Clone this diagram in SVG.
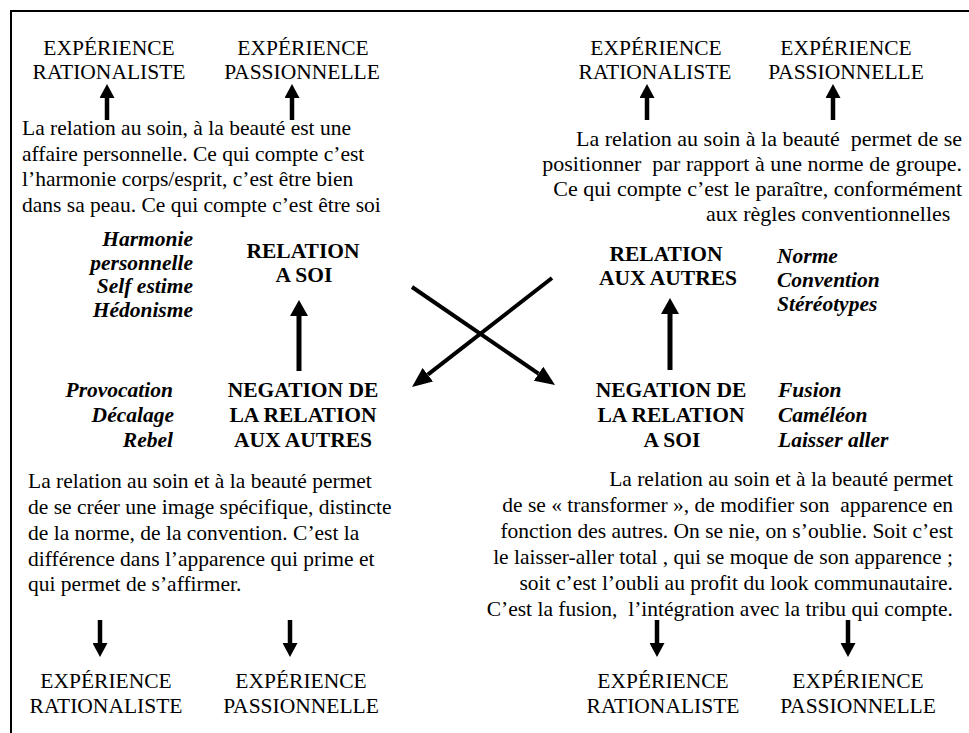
<svg xmlns="http://www.w3.org/2000/svg" width="969" height="733" viewBox="0 0 969 733">
<defs>
<style>
text{font-family:"Liberation Serif","Times New Roman",serif;font-size:21.5px;fill:#000;white-space:pre}
.m{text-anchor:middle}
.e{text-anchor:end}
.b{font-weight:bold}
.i{font-weight:bold;font-style:italic}
.tr{font-size:22px}
.a{stroke:#000;stroke-width:4.5;fill:none}
.am{stroke:#000;stroke-width:5;fill:none}
.x{stroke:#000;stroke-width:4;fill:none}
</style>
<marker id="h" markerUnits="userSpaceOnUse" markerWidth="14" markerHeight="15" refX="0" refY="7.5" orient="auto" viewBox="0 0 14 15"><path d="M0,0 L14,7.5 L0,15 z" fill="#000"/></marker>
<marker id="hm" markerUnits="userSpaceOnUse" markerWidth="16" markerHeight="18" refX="0" refY="9" orient="auto" viewBox="0 0 16 18"><path d="M0,0 L16,9 L0,18 z" fill="#000"/></marker>
<marker id="hx" markerUnits="userSpaceOnUse" markerWidth="20" markerHeight="17" refX="0" refY="8.5" orient="auto" viewBox="0 0 20 17"><path d="M0,0 L20,8.5 L0,17 z" fill="#000"/></marker>
</defs>
<rect width="969" height="733" fill="#fff"/>
<path d="M11,733 V11 H969" stroke="#000" stroke-width="2" fill="none"/>

<g id="tl-rat"><text class="m" x="109" y="55">EXPÉRIENCE</text><text class="m" x="109" y="79">RATIONALISTE</text></g>
<g id="tl-pas"><text class="m" x="303" y="55">EXPÉRIENCE</text><text class="m" x="302" y="79">PASSIONNELLE</text></g>
<g id="tl-text">
<text x="22" y="135">La relation au soin, à la beauté est une</text>
<text x="22" y="160.5">affaire personnelle. Ce qui compte c’est</text>
<text x="22" y="186">l’harmonie corps/esprit, c’est être bien</text>
<text x="22" y="211.5">dans sa peau. Ce qui compte c’est être soi</text>
</g>

<g id="tr-rat"><text class="m" x="656" y="55">EXPÉRIENCE</text><text class="m" x="655" y="79">RATIONALISTE</text></g>
<g id="tr-pas"><text class="m" x="846" y="55">EXPÉRIENCE</text><text class="m" x="846" y="79">PASSIONNELLE</text></g>
<g id="tr-text">
<text class="e tr" x="962" y="146">La relation au soin à la beauté  permet de se</text>
<text class="e tr" x="962" y="171">positionner  par rapport à une norme de groupe.</text>
<text class="e tr" x="962" y="195.5">Ce qui compte c’est le paraître, conformément</text>
<text class="tr" x="706" y="221">aux règles conventionnelles</text>
</g>

<g id="soi-kw">
<text class="i e" x="193" y="246">Harmonie</text>
<text class="i e" x="193" y="270">personnelle</text>
<text class="i e" x="193" y="293">Self estime</text>
<text class="i e" x="193" y="317">Hédonisme</text>
</g>
<g id="relation-soi"><text class="b m" x="303" y="258">RELATION</text><text class="b m" x="304" y="282">A SOI</text></g>

<g id="autres-kw">
<text class="i" x="777" y="263">Norme</text>
<text class="i" x="777" y="287">Convention</text>
<text class="i" x="777" y="311">Stéréotypes</text>
</g>
<g id="relation-autres"><text class="b m" x="666" y="261">RELATION</text><text class="b m" x="668" y="285">AUX AUTRES</text></g>

<g id="neg-autres-kw">
<text class="i e" x="173" y="397">Provocation</text>
<text class="i e" x="174" y="422">Décalage</text>
<text class="i e" x="173" y="447">Rebel</text>
</g>
<g id="neg-autres"><text class="b m" x="303" y="397">NEGATION DE</text><text class="b m" x="303" y="422">LA RELATION</text><text class="b m" x="303" y="447">AUX AUTRES</text></g>

<g id="neg-soi"><text class="b m" x="671" y="397">NEGATION DE</text><text class="b m" x="671" y="422">LA RELATION</text><text class="b m" x="672" y="447">A SOI</text></g>
<g id="neg-soi-kw">
<text class="i" x="778" y="397">Fusion</text>
<text class="i" x="778" y="422">Caméléon</text>
<text class="i" x="778" y="447">Laisser aller</text>
</g>

<g id="bl-text">
<text x="28" y="488">La relation au soin et à la beauté permet</text>
<text x="28" y="514">de se créer une image spécifique, distincte</text>
<text x="28" y="540">de la norme, de la convention. C’est la</text>
<text x="28" y="566">différence dans l’apparence qui prime et</text>
<text x="28" y="591">qui permet de s’affirmer.</text>
</g>
<g id="br-text">
<text class="e" x="953" y="486">La relation au soin et à la beauté permet</text>
<text class="e" x="953" y="512">de se « transformer », de modifier son  apparence en</text>
<text class="e" x="953" y="538">fonction des autres. On se nie, on s’oublie. Soit c’est</text>
<text class="e" x="953" y="564">le laisser-aller total , qui se moque de son apparence ;</text>
<text class="e" x="953" y="590">soit c’est l’oubli au profit du look communautaire.</text>
<text class="e" x="953" y="616">C’est la fusion,  l’intégration avec la tribu qui compte.</text>
</g>

<g id="bl-rat"><text class="m" x="106" y="688">EXPÉRIENCE</text><text class="m" x="106" y="713">RATIONALISTE</text></g>
<g id="bl-pas"><text class="m" x="301" y="688">EXPÉRIENCE</text><text class="m" x="301" y="713">PASSIONNELLE</text></g>
<g id="br-rat"><text class="m" x="663" y="688">EXPÉRIENCE</text><text class="m" x="663" y="713">RATIONALISTE</text></g>
<g id="br-pas"><text class="m" x="858" y="688">EXPÉRIENCE</text><text class="m" x="858" y="713">PASSIONNELLE</text></g>

<g id="connectors">
<line class="a" x1="107" y1="120" x2="107" y2="98" marker-end="url(#h)"/>
<line class="a" x1="292" y1="120" x2="292" y2="98" marker-end="url(#h)"/>
<line class="a" x1="647" y1="120" x2="647" y2="98" marker-end="url(#h)"/>
<line class="a" x1="833" y1="120" x2="833" y2="98" marker-end="url(#h)"/>
<line class="am" x1="299" y1="371" x2="299" y2="316" marker-end="url(#hm)"/>
<line class="am" x1="670" y1="370" x2="670" y2="314" marker-end="url(#hm)"/>
<line class="x" x1="412" y1="287" x2="538.5" y2="373.7" marker-end="url(#hx)"/>
<line class="x" x1="552" y1="278" x2="427.8" y2="374.7" marker-end="url(#hx)"/>
<line class="a" x1="100" y1="620" x2="100" y2="643" marker-end="url(#h)"/>
<line class="a" x1="290" y1="620" x2="290" y2="643" marker-end="url(#h)"/>
<line class="a" x1="657" y1="620" x2="657" y2="643" marker-end="url(#h)"/>
<line class="a" x1="848" y1="620" x2="848" y2="643" marker-end="url(#h)"/>
</g>
</svg>
